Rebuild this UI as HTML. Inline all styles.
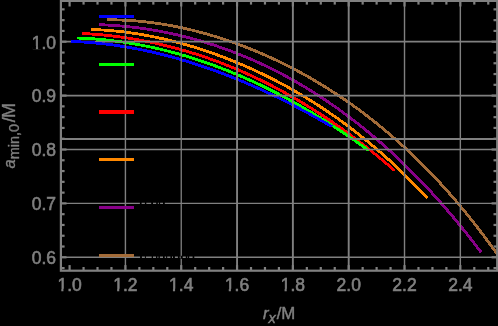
<!DOCTYPE html>
<html><head><meta charset="utf-8"><style>
html,body{margin:0;padding:0;background:#000;width:498px;height:326px;overflow:hidden}
svg{display:block}
text{font-family:"Liberation Sans",sans-serif;font-size:17.5px;fill:#808080;stroke:#808080;stroke-width:0.6px}
</style></head><body>
<svg width="498" height="326" viewBox="0 0 498 326">
<rect width="498" height="326" fill="#000"/>
<defs><clipPath id="cb"><rect x="60" y="30" width="42" height="20"/></clipPath><clipPath id="c"><rect x="60.9" y="0.9" width="436.3" height="269.8"/></clipPath></defs>
<g clip-path="url(#c)" fill="none" stroke-width="2.85" stroke-linejoin="round" shape-rendering="crispEdges">
<path d="M107.30,19.85 L113.00,19.86 L118.70,19.97 L124.40,20.18 L130.09,20.50 L135.79,20.91 L141.49,21.43 L147.19,22.04 L152.89,22.75 L158.59,23.56 L164.29,24.46 L169.98,25.45 L175.68,26.53 L181.38,27.71 L187.08,28.97 L192.78,30.32 L198.48,31.76 L204.18,33.29 L209.87,34.91 L215.57,36.62 L221.27,38.41 L226.97,40.29 L232.67,42.26 L238.37,44.31 L244.07,46.45 L249.76,48.68 L255.46,51.00 L261.16,53.41 L266.86,55.91 L272.56,58.50 L278.26,61.18 L283.96,63.96 L289.65,66.82 L295.35,69.79 L301.05,72.85 L306.75,76.00 L312.45,79.26 L318.15,82.62 L323.84,86.08 L329.54,89.65 L335.24,93.32 L340.94,97.10 L346.64,100.99 L352.34,105.00 L358.04,109.12 L363.73,113.36 L369.43,117.72 L375.13,122.20 L380.83,126.81 L386.53,131.55 L392.23,136.42 L397.93,141.43 L403.62,146.58 L409.32,151.86 L415.02,157.30 L420.72,162.88 L426.42,168.62 L432.12,174.51 L437.82,180.56 L443.51,186.78 L449.21,193.16 L454.91,199.72 L460.61,206.46 L466.31,213.38 L472.01,220.48 L477.71,227.77 L483.40,235.26 L489.10,242.95 L494.80,250.85 L500.50,258.96" stroke="#a36b38"/>
<path d="M99.30,24.68 L104.83,24.90 L110.37,25.20 L115.90,25.58 L121.44,26.03 L126.97,26.56 L132.51,27.17 L138.04,27.85 L143.58,28.61 L149.11,29.44 L154.65,30.36 L160.18,31.35 L165.72,32.42 L171.25,33.57 L176.79,34.79 L182.32,36.10 L187.86,37.49 L193.39,38.96 L198.93,40.51 L204.46,42.14 L210.00,43.86 L215.53,45.66 L221.07,47.55 L226.60,49.52 L232.13,51.57 L237.67,53.71 L243.20,55.94 L248.74,58.26 L254.27,60.67 L259.81,63.17 L265.34,65.76 L270.88,68.45 L276.41,71.23 L281.95,74.10 L287.48,77.07 L293.02,80.13 L298.55,83.30 L304.09,86.56 L309.62,89.92 L315.16,93.39 L320.69,96.96 L326.23,100.63 L331.76,104.41 L337.30,108.30 L342.83,112.30 L348.37,116.40 L353.90,120.62 L359.43,124.95 L364.97,129.40 L370.50,133.96 L376.04,138.64 L381.57,143.44 L387.11,148.37 L392.64,153.41 L398.18,158.58 L403.71,163.88 L409.25,169.30 L414.78,174.86 L420.32,180.55 L425.85,186.37 L431.39,192.33 L436.92,198.42 L442.46,204.66 L447.99,211.04 L453.53,217.56 L459.06,224.23 L464.60,231.04 L470.13,238.01 L475.67,245.13 L481.20,252.40" stroke="#880088"/>
<path d="M91.00,29.52 L95.88,29.67 L100.75,29.90 L105.63,30.20 L110.51,30.57 L115.38,31.02 L120.26,31.53 L125.14,32.11 L130.01,32.75 L134.89,33.47 L139.77,34.25 L144.64,35.09 L149.52,35.99 L154.40,36.96 L159.28,38.00 L164.15,39.09 L169.03,40.25 L173.91,41.46 L178.78,42.74 L183.66,44.08 L188.54,45.48 L193.41,46.93 L198.29,48.45 L203.17,50.03 L208.04,51.67 L212.92,53.36 L217.80,55.12 L222.67,56.94 L227.55,58.81 L232.43,60.75 L237.30,62.75 L242.18,64.81 L247.06,66.93 L251.93,69.11 L256.81,71.36 L261.69,73.67 L266.57,76.04 L271.44,78.48 L276.32,80.99 L281.20,83.56 L286.07,86.20 L290.95,88.91 L295.83,91.68 L300.70,94.53 L305.58,97.45 L310.46,100.44 L315.33,103.51 L320.21,106.65 L325.09,109.87 L329.96,113.17 L334.84,116.55 L339.72,120.01 L344.59,123.56 L349.47,127.18 L354.35,130.90 L359.22,134.70 L364.10,138.60 L368.98,142.59 L373.86,146.67 L378.73,150.85 L383.61,155.12 L388.49,159.50 L393.36,163.98 L398.24,168.57 L403.12,173.26 L407.99,178.06 L412.87,182.98 L417.75,188.01 L422.62,193.16 L427.50,198.43" stroke="#ff8800"/>
<path d="M82.00,33.43 L86.53,33.68 L91.06,33.97 L95.59,34.31 L100.12,34.70 L104.65,35.13 L109.18,35.60 L113.71,36.13 L118.24,36.70 L122.77,37.32 L127.30,37.99 L131.83,38.70 L136.37,39.47 L140.90,40.28 L145.43,41.14 L149.96,42.05 L154.49,43.01 L159.02,44.01 L163.55,45.07 L168.08,46.18 L172.61,47.34 L177.14,48.54 L181.67,49.80 L186.20,51.11 L190.73,52.47 L195.26,53.88 L199.79,55.35 L204.32,56.86 L208.85,58.43 L213.38,60.05 L217.91,61.72 L222.44,63.45 L226.97,65.22 L231.50,67.05 L236.03,68.94 L240.57,70.88 L245.10,72.87 L249.63,74.92 L254.16,77.02 L258.69,79.17 L263.22,81.38 L267.75,83.65 L272.28,85.97 L276.81,88.35 L281.34,90.78 L285.87,93.27 L290.40,95.82 L294.93,98.42 L299.46,101.08 L303.99,103.80 L308.52,106.57 L313.05,109.40 L317.58,112.29 L322.11,115.24 L326.64,118.24 L331.17,121.31 L335.70,124.43 L340.23,127.62 L344.77,130.86 L349.30,134.16 L353.83,137.52 L358.36,140.94 L362.89,144.42 L367.42,147.97 L371.95,151.57 L376.48,155.23 L381.01,158.96 L385.54,162.75 L390.07,166.60 L394.60,170.51" stroke="#ff0000"/>
<path d="M77.00,38.00 L81.23,38.15 L85.46,38.36 L89.69,38.60 L93.92,38.89 L98.15,39.23 L102.38,39.61 L106.61,40.03 L110.84,40.50 L115.07,41.01 L119.30,41.57 L123.53,42.17 L127.77,42.81 L132.00,43.50 L136.23,44.23 L140.46,45.00 L144.69,45.82 L148.92,46.69 L153.15,47.59 L157.38,48.54 L161.61,49.54 L165.84,50.57 L170.07,51.66 L174.30,52.78 L178.53,53.95 L182.76,55.16 L186.99,56.41 L191.22,57.71 L195.45,59.05 L199.68,60.44 L203.91,61.86 L208.14,63.33 L212.37,64.85 L216.60,66.40 L220.83,68.00 L225.07,69.65 L229.30,71.33 L233.53,73.06 L237.76,74.83 L241.99,76.64 L246.22,78.50 L250.45,80.40 L254.68,82.34 L258.91,84.32 L263.14,86.35 L267.37,88.42 L271.60,90.53 L275.83,92.69 L280.06,94.88 L284.29,97.12 L288.52,99.40 L292.75,101.72 L296.98,104.09 L301.21,106.50 L305.44,108.95 L309.67,111.44 L313.90,113.97 L318.13,116.55 L322.37,119.16 L326.60,121.82 L330.83,124.52 L335.06,127.26 L339.29,130.05 L343.52,132.87 L347.75,135.74 L351.98,138.65 L356.21,141.60 L360.44,144.59 L364.67,147.63 L368.90,150.70" stroke="#00ff00"/>
<path d="M71.00,41.48 L74.78,41.62 L78.57,41.79 L82.35,42.00 L86.13,42.24 L89.91,42.52 L93.70,42.84 L97.48,43.19 L101.26,43.57 L105.04,44.00 L108.83,44.45 L112.61,44.94 L116.39,45.47 L120.17,46.03 L123.96,46.62 L127.74,47.25 L131.52,47.91 L135.30,48.60 L139.09,49.33 L142.87,50.09 L146.65,50.88 L150.43,51.71 L154.22,52.57 L158.00,53.46 L161.78,54.39 L165.57,55.35 L169.35,56.33 L173.13,57.35 L176.91,58.41 L180.70,59.49 L184.48,60.61 L188.26,61.75 L192.04,62.93 L195.83,64.14 L199.61,65.38 L203.39,66.64 L207.17,67.94 L210.96,69.27 L214.74,70.63 L218.52,72.02 L222.30,73.44 L226.09,74.89 L229.87,76.36 L233.65,77.87 L237.43,79.41 L241.22,80.97 L245.00,82.56 L248.78,84.18 L252.57,85.83 L256.35,87.51 L260.13,89.21 L263.91,90.94 L267.70,92.70 L271.48,94.49 L275.26,96.30 L279.04,98.15 L282.83,100.01 L286.61,101.91 L290.39,103.83 L294.17,105.77 L297.96,107.75 L301.74,109.75 L305.52,111.77 L309.30,113.82 L313.09,115.90 L316.87,118.00 L320.65,120.12 L324.43,122.27 L328.22,124.45 L332.00,126.65" stroke="#0000ff"/>
</g>
<g stroke="#808080" stroke-width="1.5">
<line x1="125.42" y1="0.9" x2="125.42" y2="270.7" stroke-width="1.4"/><line x1="181.24" y1="0.9" x2="181.24" y2="270.7" stroke-width="1.3"/><line x1="237.06" y1="0.9" x2="237.06" y2="270.7" stroke-width="1.9"/><line x1="292.88" y1="0.9" x2="292.88" y2="270.7" stroke-width="1.9"/><line x1="348.70" y1="0.9" x2="348.70" y2="270.7" stroke-width="1.9"/><line x1="404.52" y1="0.9" x2="404.52" y2="270.7" stroke-width="1.4"/><line x1="460.34" y1="0.9" x2="460.34" y2="270.7" stroke-width="1.4"/><line x1="60.9" y1="41.70" x2="497.2" y2="41.70" stroke-width="1.8"/><line x1="60.9" y1="95.60" x2="497.2" y2="95.60" stroke-width="1.6"/><line x1="60.9" y1="149.50" x2="497.2" y2="149.50" stroke-width="1.3"/><line x1="60.9" y1="203.40" x2="497.2" y2="203.40" stroke-width="1.4"/><line x1="60.9" y1="257.30" x2="497.2" y2="257.30" stroke-width="1.4"/><line x1="60.9" y1="139" x2="497.2" y2="139" stroke-width="1.9"/>
</g>
<g clip-path="url(#cb)" fill="none" stroke-width="2.85" shape-rendering="crispEdges"><path d="M71.00,41.48 L74.78,41.62 L78.57,41.79 L82.35,42.00 L86.13,42.24 L89.91,42.52 L93.70,42.84 L97.48,43.19 L101.26,43.57 L105.04,44.00 L108.83,44.45 L112.61,44.94 L116.39,45.47 L120.17,46.03 L123.96,46.62 L127.74,47.25 L131.52,47.91 L135.30,48.60 L139.09,49.33 L142.87,50.09 L146.65,50.88 L150.43,51.71 L154.22,52.57 L158.00,53.46 L161.78,54.39 L165.57,55.35 L169.35,56.33 L173.13,57.35 L176.91,58.41 L180.70,59.49 L184.48,60.61 L188.26,61.75 L192.04,62.93 L195.83,64.14 L199.61,65.38 L203.39,66.64 L207.17,67.94 L210.96,69.27 L214.74,70.63 L218.52,72.02 L222.30,73.44 L226.09,74.89 L229.87,76.36 L233.65,77.87 L237.43,79.41 L241.22,80.97 L245.00,82.56 L248.78,84.18 L252.57,85.83 L256.35,87.51 L260.13,89.21 L263.91,90.94 L267.70,92.70 L271.48,94.49 L275.26,96.30 L279.04,98.15 L282.83,100.01 L286.61,101.91 L290.39,103.83 L294.17,105.77 L297.96,107.75 L301.74,109.75 L305.52,111.77 L309.30,113.82 L313.09,115.90 L316.87,118.00 L320.65,120.12 L324.43,122.27 L328.22,124.45 L332.00,126.65" stroke="#0000ff"/></g>
<g fill="#000"><rect x="139.9" y="201.90" width="1.70" height="3"/><rect x="144.9" y="201.90" width="1.40" height="3"/><rect x="151.2" y="201.90" width="1.80" height="3"/><rect x="156.2" y="201.90" width="1.60" height="3"/><rect x="158.9" y="201.90" width="1.20" height="3"/><rect x="163" y="201.90" width="1.80" height="3"/><rect x="140.1" y="255.80" width="1.80" height="3"/><rect x="144.9" y="255.80" width="1.00" height="3"/><rect x="151.7" y="255.80" width="1.30" height="3"/><rect x="156" y="255.80" width="1.40" height="3"/><rect x="158.4" y="255.80" width="1.50" height="3"/><rect x="163" y="255.80" width="1.70" height="3"/><rect x="166.1" y="255.80" width="1.10" height="3"/><rect x="170.4" y="255.80" width="1.60" height="3"/><rect x="173" y="255.80" width="1.90" height="3"/><rect x="177.9" y="255.80" width="1.80" height="3"/><rect x="180.7" y="255.80" width="2.00" height="3"/><rect x="185.8" y="255.80" width="1.40" height="3"/><rect x="187.8" y="255.80" width="1.40" height="3"/><rect x="192.6" y="255.80" width="1.70" height="3"/></g>
<g stroke-width="3">
<rect x="99" y="15" width="35" height="3" fill="#0000ff"/><rect x="99" y="63" width="35" height="3" fill="#00ff00"/><rect x="99" y="110" width="35" height="4" fill="#ff0000"/><rect x="99" y="158" width="35" height="3" fill="#ff8800"/><rect x="99" y="206" width="35" height="3" fill="#880088"/><rect x="99" y="254" width="35" height="3" fill="#a36b38"/>
</g>
<g stroke="#808080" stroke-width="2.2">
<line x1="69.60" y1="270.7" x2="69.60" y2="265.10"/><line x1="69.60" y1="0.9" x2="69.60" y2="6.50"/><line x1="83.56" y1="270.7" x2="83.56" y2="267.00"/><line x1="83.56" y1="0.9" x2="83.56" y2="4.60"/><line x1="97.51" y1="270.7" x2="97.51" y2="267.00"/><line x1="97.51" y1="0.9" x2="97.51" y2="4.60"/><line x1="111.46" y1="270.7" x2="111.46" y2="267.00"/><line x1="111.46" y1="0.9" x2="111.46" y2="4.60"/><line x1="125.42" y1="270.7" x2="125.42" y2="265.10"/><line x1="125.42" y1="0.9" x2="125.42" y2="6.50"/><line x1="139.38" y1="270.7" x2="139.38" y2="267.00"/><line x1="139.38" y1="0.9" x2="139.38" y2="4.60"/><line x1="153.33" y1="270.7" x2="153.33" y2="267.00"/><line x1="153.33" y1="0.9" x2="153.33" y2="4.60"/><line x1="167.29" y1="270.7" x2="167.29" y2="267.00"/><line x1="167.29" y1="0.9" x2="167.29" y2="4.60"/><line x1="181.24" y1="270.7" x2="181.24" y2="265.10"/><line x1="181.24" y1="0.9" x2="181.24" y2="6.50"/><line x1="195.19" y1="270.7" x2="195.19" y2="267.00"/><line x1="195.19" y1="0.9" x2="195.19" y2="4.60"/><line x1="209.15" y1="270.7" x2="209.15" y2="267.00"/><line x1="209.15" y1="0.9" x2="209.15" y2="4.60"/><line x1="223.11" y1="270.7" x2="223.11" y2="267.00"/><line x1="223.11" y1="0.9" x2="223.11" y2="4.60"/><line x1="237.06" y1="270.7" x2="237.06" y2="265.10"/><line x1="237.06" y1="0.9" x2="237.06" y2="6.50"/><line x1="251.01" y1="270.7" x2="251.01" y2="267.00"/><line x1="251.01" y1="0.9" x2="251.01" y2="4.60"/><line x1="264.97" y1="270.7" x2="264.97" y2="267.00"/><line x1="264.97" y1="0.9" x2="264.97" y2="4.60"/><line x1="278.93" y1="270.7" x2="278.93" y2="267.00"/><line x1="278.93" y1="0.9" x2="278.93" y2="4.60"/><line x1="292.88" y1="270.7" x2="292.88" y2="265.10"/><line x1="292.88" y1="0.9" x2="292.88" y2="6.50"/><line x1="306.84" y1="270.7" x2="306.84" y2="267.00"/><line x1="306.84" y1="0.9" x2="306.84" y2="4.60"/><line x1="320.79" y1="270.7" x2="320.79" y2="267.00"/><line x1="320.79" y1="0.9" x2="320.79" y2="4.60"/><line x1="334.75" y1="270.7" x2="334.75" y2="267.00"/><line x1="334.75" y1="0.9" x2="334.75" y2="4.60"/><line x1="348.70" y1="270.7" x2="348.70" y2="265.10"/><line x1="348.70" y1="0.9" x2="348.70" y2="6.50"/><line x1="362.65" y1="270.7" x2="362.65" y2="267.00"/><line x1="362.65" y1="0.9" x2="362.65" y2="4.60"/><line x1="376.61" y1="270.7" x2="376.61" y2="267.00"/><line x1="376.61" y1="0.9" x2="376.61" y2="4.60"/><line x1="390.56" y1="270.7" x2="390.56" y2="267.00"/><line x1="390.56" y1="0.9" x2="390.56" y2="4.60"/><line x1="404.52" y1="270.7" x2="404.52" y2="265.10"/><line x1="404.52" y1="0.9" x2="404.52" y2="6.50"/><line x1="418.48" y1="270.7" x2="418.48" y2="267.00"/><line x1="418.48" y1="0.9" x2="418.48" y2="4.60"/><line x1="432.43" y1="270.7" x2="432.43" y2="267.00"/><line x1="432.43" y1="0.9" x2="432.43" y2="4.60"/><line x1="446.39" y1="270.7" x2="446.39" y2="267.00"/><line x1="446.39" y1="0.9" x2="446.39" y2="4.60"/><line x1="460.34" y1="270.7" x2="460.34" y2="265.10"/><line x1="460.34" y1="0.9" x2="460.34" y2="6.50"/><line x1="474.30" y1="270.7" x2="474.30" y2="267.00"/><line x1="474.30" y1="0.9" x2="474.30" y2="4.60"/><line x1="488.25" y1="270.7" x2="488.25" y2="267.00"/><line x1="488.25" y1="0.9" x2="488.25" y2="4.60"/><line x1="60.9" y1="268.08" x2="64.60" y2="268.08"/><line x1="497.2" y1="268.08" x2="493.50" y2="268.08"/><line x1="60.9" y1="257.30" x2="66.50" y2="257.30"/><line x1="497.2" y1="257.30" x2="491.60" y2="257.30"/><line x1="60.9" y1="246.52" x2="64.60" y2="246.52"/><line x1="497.2" y1="246.52" x2="493.50" y2="246.52"/><line x1="60.9" y1="235.74" x2="64.60" y2="235.74"/><line x1="497.2" y1="235.74" x2="493.50" y2="235.74"/><line x1="60.9" y1="224.96" x2="64.60" y2="224.96"/><line x1="497.2" y1="224.96" x2="493.50" y2="224.96"/><line x1="60.9" y1="214.18" x2="64.60" y2="214.18"/><line x1="497.2" y1="214.18" x2="493.50" y2="214.18"/><line x1="60.9" y1="203.40" x2="66.50" y2="203.40"/><line x1="497.2" y1="203.40" x2="491.60" y2="203.40"/><line x1="60.9" y1="192.62" x2="64.60" y2="192.62"/><line x1="497.2" y1="192.62" x2="493.50" y2="192.62"/><line x1="60.9" y1="181.84" x2="64.60" y2="181.84"/><line x1="497.2" y1="181.84" x2="493.50" y2="181.84"/><line x1="60.9" y1="171.06" x2="64.60" y2="171.06"/><line x1="497.2" y1="171.06" x2="493.50" y2="171.06"/><line x1="60.9" y1="160.28" x2="64.60" y2="160.28"/><line x1="497.2" y1="160.28" x2="493.50" y2="160.28"/><line x1="60.9" y1="149.50" x2="66.50" y2="149.50"/><line x1="497.2" y1="149.50" x2="491.60" y2="149.50"/><line x1="60.9" y1="138.72" x2="64.60" y2="138.72"/><line x1="497.2" y1="138.72" x2="493.50" y2="138.72"/><line x1="60.9" y1="127.94" x2="64.60" y2="127.94"/><line x1="497.2" y1="127.94" x2="493.50" y2="127.94"/><line x1="60.9" y1="117.16" x2="64.60" y2="117.16"/><line x1="497.2" y1="117.16" x2="493.50" y2="117.16"/><line x1="60.9" y1="106.38" x2="64.60" y2="106.38"/><line x1="497.2" y1="106.38" x2="493.50" y2="106.38"/><line x1="60.9" y1="95.60" x2="66.50" y2="95.60"/><line x1="497.2" y1="95.60" x2="491.60" y2="95.60"/><line x1="60.9" y1="84.82" x2="64.60" y2="84.82"/><line x1="497.2" y1="84.82" x2="493.50" y2="84.82"/><line x1="60.9" y1="74.04" x2="64.60" y2="74.04"/><line x1="497.2" y1="74.04" x2="493.50" y2="74.04"/><line x1="60.9" y1="63.26" x2="64.60" y2="63.26"/><line x1="497.2" y1="63.26" x2="493.50" y2="63.26"/><line x1="60.9" y1="52.48" x2="64.60" y2="52.48"/><line x1="497.2" y1="52.48" x2="493.50" y2="52.48"/><line x1="60.9" y1="41.70" x2="66.50" y2="41.70"/><line x1="497.2" y1="41.70" x2="491.60" y2="41.70"/><line x1="60.9" y1="30.92" x2="64.60" y2="30.92"/><line x1="497.2" y1="30.92" x2="493.50" y2="30.92"/><line x1="60.9" y1="20.14" x2="64.60" y2="20.14"/><line x1="497.2" y1="20.14" x2="493.50" y2="20.14"/><line x1="60.9" y1="9.36" x2="64.60" y2="9.36"/><line x1="497.2" y1="9.36" x2="493.50" y2="9.36"/>
</g>
<rect x="60.9" y="0.9" width="436.30" height="269.80" fill="none" stroke="#808080" stroke-width="2.2"/>
<g opacity="0.999">
<text x="69.60" y="291.4" text-anchor="middle">1.0</text><text x="125.42" y="291.4" text-anchor="middle">1.2</text><text x="181.24" y="291.4" text-anchor="middle">1.4</text><text x="237.06" y="291.4" text-anchor="middle">1.6</text><text x="292.88" y="291.4" text-anchor="middle">1.8</text><text x="348.70" y="291.4" text-anchor="middle">2.0</text><text x="404.52" y="291.4" text-anchor="middle">2.2</text><text x="460.34" y="291.4" text-anchor="middle">2.4</text><text x="56" y="48.50" text-anchor="end">1.0</text><text x="56" y="102.40" text-anchor="end">0.9</text><text x="56" y="156.30" text-anchor="end">0.8</text><text x="56" y="210.20" text-anchor="end">0.7</text><text x="56" y="264.10" text-anchor="end">0.6</text>
<g fill="#000" stroke="none"><rect x="57.64" y="288.80" width="3.65" height="3.4"/><rect x="63.44" y="288.80" width="4" height="3.4"/><rect x="113.46" y="288.80" width="3.65" height="3.4"/><rect x="119.26" y="288.80" width="4" height="3.4"/><rect x="169.28" y="288.80" width="3.65" height="3.4"/><rect x="175.08" y="288.80" width="4" height="3.4"/><rect x="225.10" y="288.80" width="3.65" height="3.4"/><rect x="230.90" y="288.80" width="4" height="3.4"/><rect x="280.92" y="288.80" width="3.65" height="3.4"/><rect x="286.72" y="288.80" width="4" height="3.4"/><rect x="32.27" y="45.90" width="3.65" height="3.4"/><rect x="38.07" y="45.90" width="4" height="3.4"/></g>
<text transform="translate(15,168.5) rotate(-90)" style="font-size:16.5px;stroke-width:0.35px"><tspan font-style="italic">a</tspan><tspan font-size="14.5" dy="4">min,0</tspan><tspan dy="-4" dx="1.5" font-size="18">/</tspan><tspan dx="-0.7" font-size="18">M</tspan></text>
<text x="263" y="319.1" style="font-size:16.8px;stroke-width:0.45px"><tspan font-style="italic">r</tspan><tspan font-size="14.5" dy="4" font-style="italic">x</tspan><tspan dy="-4" dx="0.8">/M</tspan></text>
</g>
</svg>
</body></html>
